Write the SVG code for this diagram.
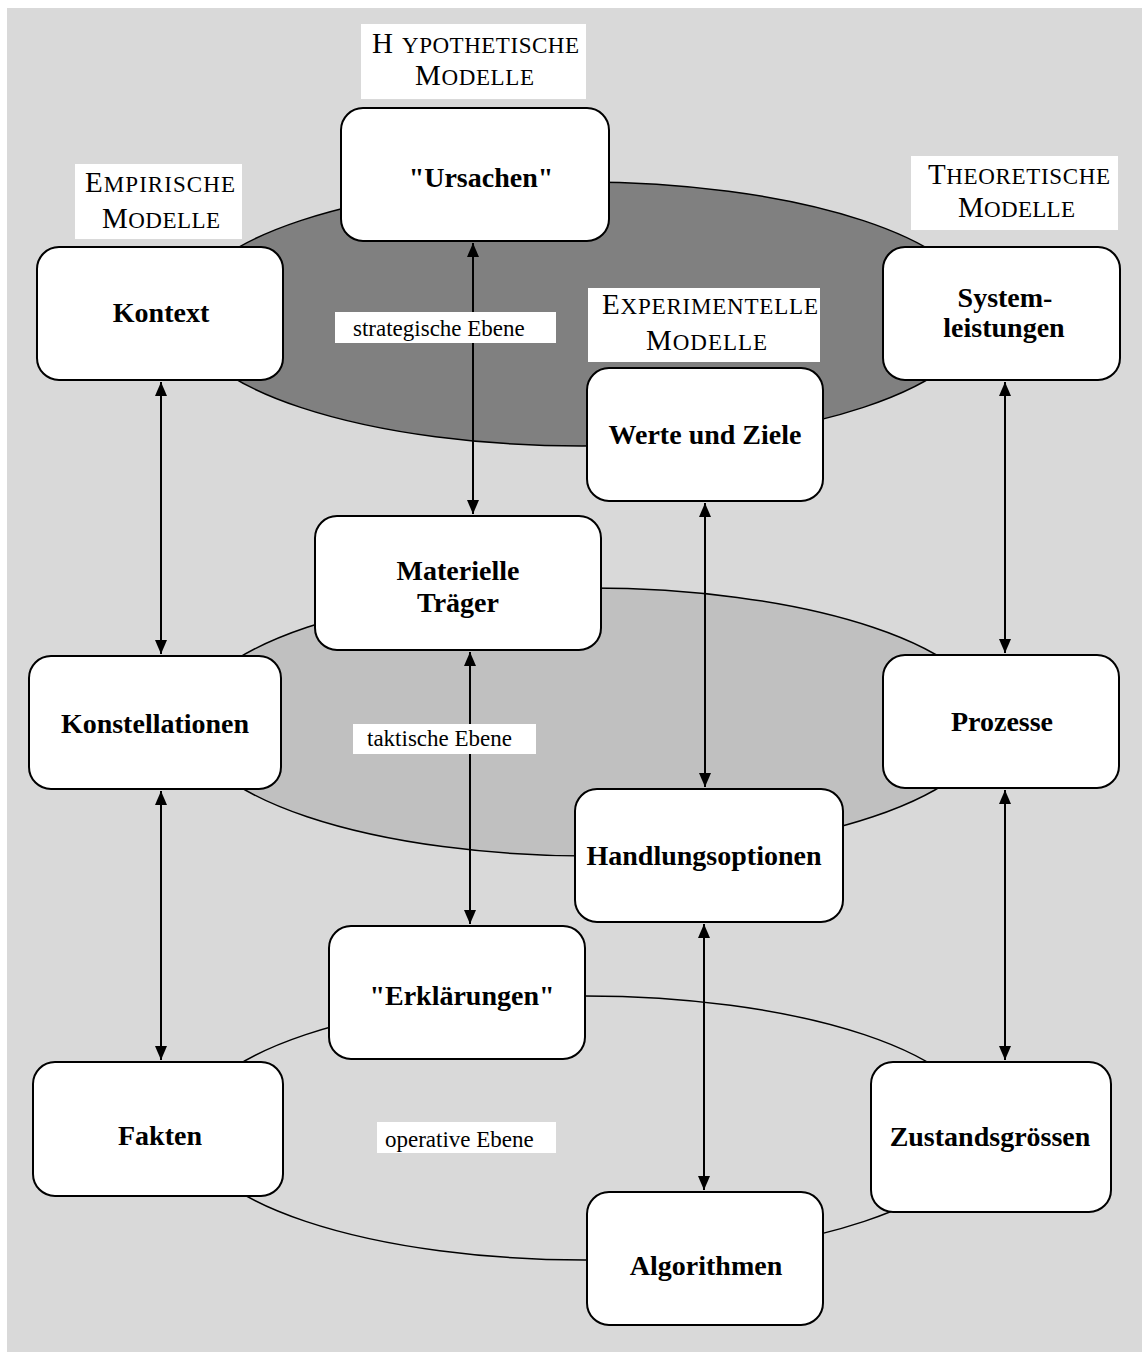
<svg xmlns="http://www.w3.org/2000/svg" width="1142" height="1352" viewBox="0 0 1142 1352">
  <style>
    .node rect { fill: #ffffff; stroke: #000000; stroke-width: 2; }
    .node text { font-family: "Liberation Serif", "Times New Roman", serif; font-weight: bold; font-size: 28px; text-anchor: middle; fill: #000000; }
    .cap { font-family: "Liberation Serif", "Times New Roman", serif; fill: #000000; }
    .big { font-size: 29px; }
    .sm { font-size: 23px; }
    .tag rect, .level rect { fill: #ffffff; stroke: none; }
    .level text { font-family: "Liberation Serif", "Times New Roman", serif; font-size: 23px; fill: #000000; }
    .ring { stroke: #000000; stroke-width: 1.5; }
    .link { stroke: #000000; stroke-width: 2; fill: none; marker-start: url(#head); marker-end: url(#head); }
  </style>
  <defs>
    <marker id="head" markerUnits="userSpaceOnUse" markerWidth="14" markerHeight="12" refX="14" refY="6" orient="auto-start-reverse" viewBox="0 0 14 12">
      <path d="M0,0 L14,6 L0,12 Z" fill="#000000"/>
    </marker>
  </defs>

  <!-- background panel -->
  <rect x="7" y="8" width="1135" height="1344" fill="#d9d9d9"/>

  <!-- the three levels -->
  <g id="levels">
    <ellipse class="ring" cx="582" cy="314" rx="398" ry="132" fill="#808080"/>
    <ellipse class="ring" cx="590" cy="722" rx="400" ry="134" fill="#c0c0c0"/>
    <ellipse class="ring" cx="585" cy="1128" rx="395" ry="132" fill="none"/>
  </g>

  <!-- vertical double-headed connectors -->
  <g id="connectors">
    <line class="link" x1="161" y1="382" x2="161" y2="654"/>
    <line class="link" x1="473" y1="243" x2="473" y2="514"/>
    <line class="link" x1="1005" y1="382" x2="1005" y2="653"/>
    <line class="link" x1="705" y1="503" x2="705" y2="787"/>
    <line class="link" x1="470" y1="652" x2="470" y2="924"/>
    <line class="link" x1="161" y1="791" x2="161" y2="1060"/>
    <line class="link" x1="1005" y1="790" x2="1005" y2="1060"/>
    <line class="link" x1="704" y1="924" x2="704" y2="1190"/>
  </g>

  <!-- level captions -->
  <g id="level-strategisch" class="level">
    <rect x="335" y="312" width="221" height="31"/>
    <text x="353" y="336">strategische Ebene</text>
  </g>
  <g id="level-taktisch" class="level">
    <rect x="353" y="724" width="183" height="30"/>
    <text x="367" y="746">taktische Ebene</text>
  </g>
  <g id="level-operativ" class="level">
    <rect x="377" y="1122" width="179" height="31"/>
    <text x="385" y="1147">operative Ebene</text>
  </g>

  <!-- model type captions -->
  <g id="tag-hypothetisch" class="tag">
    <rect x="361" y="24" width="225" height="75"/>
    <text class="cap" y="53"><tspan class="big" x="372">H</tspan><tspan class="sm" x="402" textLength="177" lengthAdjust="spacing">YPOTHETISCHE</tspan></text>
    <text class="cap" x="415" y="85" textLength="119" lengthAdjust="spacing"><tspan class="big">M</tspan><tspan class="sm">ODELLE</tspan></text>
  </g>
  <g id="tag-empirisch" class="tag">
    <rect x="75" y="164" width="167" height="75"/>
    <text class="cap" x="85" y="192" textLength="150" lengthAdjust="spacing"><tspan class="big">E</tspan><tspan class="sm">MPIRISCHE</tspan></text>
    <text class="cap" x="102" y="228" textLength="118" lengthAdjust="spacing"><tspan class="big">M</tspan><tspan class="sm">ODELLE</tspan></text>
  </g>
  <g id="tag-theoretisch" class="tag">
    <rect x="911" y="156" width="207" height="74"/>
    <text class="cap" x="928" y="184" textLength="182" lengthAdjust="spacing"><tspan class="big">T</tspan><tspan class="sm">HEORETISCHE</tspan></text>
    <text class="cap" x="958" y="217" textLength="117" lengthAdjust="spacing"><tspan class="big">M</tspan><tspan class="sm">ODELLE</tspan></text>
  </g>

  <!-- nodes -->
  <g id="node-ursachen" class="node">
    <rect x="341" y="108" width="268" height="133" rx="22"/>
    <text x="481" y="187">"Ursachen"</text>
  </g>
  <g id="node-kontext" class="node">
    <rect x="37" y="247" width="246" height="133" rx="22"/>
    <text x="161" y="322">Kontext</text>
  </g>
  <g id="node-systemleistungen" class="node">
    <rect x="883" y="247" width="237" height="133" rx="22"/>
    <text x="1005" y="307">System-</text>
    <text x="1004" y="337">leistungen</text>
  </g>
  <g id="tag-experimentell" class="tag">
    <rect x="588" y="288" width="232" height="74"/>
    <text class="cap" x="602" y="314" textLength="216" lengthAdjust="spacing"><tspan class="big">E</tspan><tspan class="sm">XPERIMENTELLE</tspan></text>
    <text class="cap" x="646" y="350" textLength="121" lengthAdjust="spacing"><tspan class="big">M</tspan><tspan class="sm">ODELLE</tspan></text>
  </g>
  <g id="node-werte" class="node">
    <rect x="587" y="368" width="236" height="133" rx="22"/>
    <text x="705" y="444">Werte und Ziele</text>
  </g>
  <g id="node-traeger" class="node">
    <rect x="315" y="516" width="286" height="134" rx="22"/>
    <text x="458" y="580">Materielle</text>
    <text x="458" y="612">Träger</text>
  </g>
  <g id="node-konstellationen" class="node">
    <rect x="29" y="656" width="252" height="133" rx="22"/>
    <text x="155" y="733">Konstellationen</text>
  </g>
  <g id="node-prozesse" class="node">
    <rect x="883" y="655" width="236" height="133" rx="22"/>
    <text x="1002" y="731">Prozesse</text>
  </g>
  <g id="node-handlungsoptionen" class="node">
    <rect x="575" y="789" width="268" height="133" rx="22"/>
    <text x="704" y="865">Handlungsoptionen</text>
  </g>
  <g id="node-erklaerungen" class="node">
    <rect x="329" y="926" width="256" height="133" rx="22"/>
    <text x="462" y="1005">"Erklärungen"</text>
  </g>
  <g id="node-fakten" class="node">
    <rect x="33" y="1062" width="250" height="134" rx="22"/>
    <text x="160" y="1145">Fakten</text>
  </g>
  <g id="node-zustandsgroessen" class="node">
    <rect x="871" y="1062" width="240" height="150" rx="22"/>
    <text x="990" y="1146">Zustandsgrössen</text>
  </g>
  <g id="node-algorithmen" class="node">
    <rect x="587" y="1192" width="236" height="133" rx="22"/>
    <text x="706" y="1275">Algorithmen</text>
  </g>
</svg>
